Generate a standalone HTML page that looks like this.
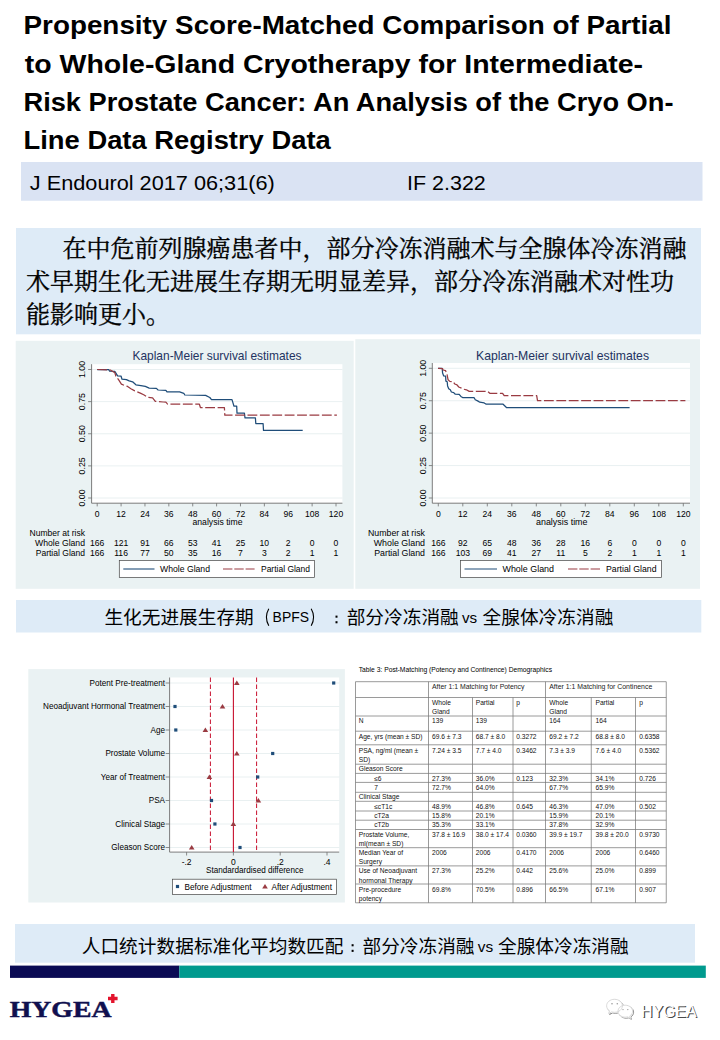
<!DOCTYPE html>
<html lang="zh"><head><meta charset="utf-8"><title>Propensity Score-Matched Comparison of Partial to Whole-Gland Cryotherapy</title>
<style>
html,body{margin:0;padding:0;background:#fff;}
body{width:720px;height:1040px;overflow:hidden;font-family:"Liberation Sans",sans-serif;}
svg{display:block;}
text{white-space:pre;}
</style></head><body>
<svg width="720" height="1040" viewBox="0 0 720 1040">
<text x="23.50" y="34.25" font-family="Liberation Sans, sans-serif" font-size="26.2" font-weight="bold" textLength="648.00" lengthAdjust="spacingAndGlyphs" fill="#000">Propensity Score-Matched Comparison of Partial</text>
<text x="24.75" y="72.50" font-family="Liberation Sans, sans-serif" font-size="26.2" font-weight="bold" textLength="618.30" lengthAdjust="spacingAndGlyphs" fill="#000">to Whole-Gland Cryotherapy for Intermediate-</text>
<text x="23.50" y="110.75" font-family="Liberation Sans, sans-serif" font-size="26.2" font-weight="bold" textLength="650.00" lengthAdjust="spacingAndGlyphs" fill="#000">Risk Prostate Cancer: An Analysis of the Cryo On-</text>
<text x="23.50" y="149.00" font-family="Liberation Sans, sans-serif" font-size="26.2" font-weight="bold" textLength="307.30" lengthAdjust="spacingAndGlyphs" fill="#000">Line Data Registry Data</text>
<rect x="21.00" y="162.00" width="681.50" height="38.75" fill="#dae3f3"/>
<text x="29.80" y="190.00" font-family="Liberation Sans, sans-serif" font-size="21.1" textLength="245.00" lengthAdjust="spacingAndGlyphs" fill="#000">J Endourol 2017 06;31(6)</text>
<text x="407.00" y="190.00" font-family="Liberation Sans, sans-serif" font-size="21.1" textLength="78.80" lengthAdjust="spacingAndGlyphs" fill="#000">IF 2.322</text>
<rect x="16.00" y="228.00" width="685.00" height="106.30" fill="#deebf7"/>
<text x="62.50" y="257.40" font-family="'Liberation Serif', 'Noto Serif CJK SC', serif" font-size="24" textLength="624" lengthAdjust="spacing" fill="#000" stroke="#000" stroke-width="0.34" stroke-linejoin="round">在中危前列腺癌患者中，部分冷冻消融术与全腺体冷冻消融</text>
<text x="26.00" y="290.15" font-family="'Liberation Serif', 'Noto Serif CJK SC', serif" font-size="24" textLength="648" lengthAdjust="spacing" fill="#000" stroke="#000" stroke-width="0.34" stroke-linejoin="round">术早期生化无进展生存期无明显差异，部分冷冻消融术对性功</text>
<text x="26.00" y="322.90" font-family="'Liberation Serif', 'Noto Serif CJK SC', serif" font-size="24" textLength="144" lengthAdjust="spacing" fill="#000" stroke="#000" stroke-width="0.34" stroke-linejoin="round">能影响更小。</text>
<rect x="15.70" y="340.80" width="338.00" height="248.00" fill="#eaf2f3"/>
<rect x="91.60" y="364.20" width="250.80" height="139.00" fill="#fff"/>
<line x1="91.6" x2="342.4" y1="369.50" y2="369.50" stroke="#e3ecee" stroke-width="0.8"/>
<line x1="91.6" x2="342.4" y1="401.62" y2="401.62" stroke="#e3ecee" stroke-width="0.8"/>
<line x1="91.6" x2="342.4" y1="433.75" y2="433.75" stroke="#e3ecee" stroke-width="0.8"/>
<line x1="91.6" x2="342.4" y1="465.88" y2="465.88" stroke="#e3ecee" stroke-width="0.8"/>
<line x1="91.6" x2="342.4" y1="498.00" y2="498.00" stroke="#e3ecee" stroke-width="0.8"/>
<path d="M91.6 364.2V503.2H342.4" fill="none" stroke="#6e6e6e" stroke-width="0.9"/>
<line x1="88.1" x2="91.6" y1="369.50" y2="369.50" stroke="#6e6e6e" stroke-width="0.8"/>
<text x="0.00" y="0.00" font-family="Liberation Sans, sans-serif" font-size="8.8" text-anchor="middle" fill="#000" transform="translate(85.30,369.50) rotate(-90)">1.00</text>
<line x1="88.1" x2="91.6" y1="401.62" y2="401.62" stroke="#6e6e6e" stroke-width="0.8"/>
<text x="0.00" y="0.00" font-family="Liberation Sans, sans-serif" font-size="8.8" text-anchor="middle" fill="#000" transform="translate(85.30,401.62) rotate(-90)">0.75</text>
<line x1="88.1" x2="91.6" y1="433.75" y2="433.75" stroke="#6e6e6e" stroke-width="0.8"/>
<text x="0.00" y="0.00" font-family="Liberation Sans, sans-serif" font-size="8.8" text-anchor="middle" fill="#000" transform="translate(85.30,433.75) rotate(-90)">0.50</text>
<line x1="88.1" x2="91.6" y1="465.88" y2="465.88" stroke="#6e6e6e" stroke-width="0.8"/>
<text x="0.00" y="0.00" font-family="Liberation Sans, sans-serif" font-size="8.8" text-anchor="middle" fill="#000" transform="translate(85.30,465.88) rotate(-90)">0.25</text>
<line x1="88.1" x2="91.6" y1="498.00" y2="498.00" stroke="#6e6e6e" stroke-width="0.8"/>
<text x="0.00" y="0.00" font-family="Liberation Sans, sans-serif" font-size="8.8" text-anchor="middle" fill="#000" transform="translate(85.30,498.00) rotate(-90)">0.00</text>
<line x1="97.20" x2="97.20" y1="503.2" y2="506.4" stroke="#6e6e6e" stroke-width="0.8"/>
<text x="97.20" y="516.80" font-family="Liberation Sans, sans-serif" font-size="8.6" text-anchor="middle" fill="#000">0</text>
<text x="97.20" y="546.30" font-family="Liberation Sans, sans-serif" font-size="8.6" text-anchor="middle" fill="#000">166</text>
<text x="97.20" y="555.80" font-family="Liberation Sans, sans-serif" font-size="8.6" text-anchor="middle" fill="#000">166</text>
<line x1="121.08" x2="121.08" y1="503.2" y2="506.4" stroke="#6e6e6e" stroke-width="0.8"/>
<text x="121.08" y="516.80" font-family="Liberation Sans, sans-serif" font-size="8.6" text-anchor="middle" fill="#000">12</text>
<text x="121.08" y="546.30" font-family="Liberation Sans, sans-serif" font-size="8.6" text-anchor="middle" fill="#000">121</text>
<text x="121.08" y="555.80" font-family="Liberation Sans, sans-serif" font-size="8.6" text-anchor="middle" fill="#000">116</text>
<line x1="144.96" x2="144.96" y1="503.2" y2="506.4" stroke="#6e6e6e" stroke-width="0.8"/>
<text x="144.96" y="516.80" font-family="Liberation Sans, sans-serif" font-size="8.6" text-anchor="middle" fill="#000">24</text>
<text x="144.96" y="546.30" font-family="Liberation Sans, sans-serif" font-size="8.6" text-anchor="middle" fill="#000">91</text>
<text x="144.96" y="555.80" font-family="Liberation Sans, sans-serif" font-size="8.6" text-anchor="middle" fill="#000">77</text>
<line x1="168.84" x2="168.84" y1="503.2" y2="506.4" stroke="#6e6e6e" stroke-width="0.8"/>
<text x="168.84" y="516.80" font-family="Liberation Sans, sans-serif" font-size="8.6" text-anchor="middle" fill="#000">36</text>
<text x="168.84" y="546.30" font-family="Liberation Sans, sans-serif" font-size="8.6" text-anchor="middle" fill="#000">66</text>
<text x="168.84" y="555.80" font-family="Liberation Sans, sans-serif" font-size="8.6" text-anchor="middle" fill="#000">50</text>
<line x1="192.72" x2="192.72" y1="503.2" y2="506.4" stroke="#6e6e6e" stroke-width="0.8"/>
<text x="192.72" y="516.80" font-family="Liberation Sans, sans-serif" font-size="8.6" text-anchor="middle" fill="#000">48</text>
<text x="192.72" y="546.30" font-family="Liberation Sans, sans-serif" font-size="8.6" text-anchor="middle" fill="#000">53</text>
<text x="192.72" y="555.80" font-family="Liberation Sans, sans-serif" font-size="8.6" text-anchor="middle" fill="#000">35</text>
<line x1="216.60" x2="216.60" y1="503.2" y2="506.4" stroke="#6e6e6e" stroke-width="0.8"/>
<text x="216.60" y="516.80" font-family="Liberation Sans, sans-serif" font-size="8.6" text-anchor="middle" fill="#000">60</text>
<text x="216.60" y="546.30" font-family="Liberation Sans, sans-serif" font-size="8.6" text-anchor="middle" fill="#000">41</text>
<text x="216.60" y="555.80" font-family="Liberation Sans, sans-serif" font-size="8.6" text-anchor="middle" fill="#000">16</text>
<line x1="240.48" x2="240.48" y1="503.2" y2="506.4" stroke="#6e6e6e" stroke-width="0.8"/>
<text x="240.48" y="516.80" font-family="Liberation Sans, sans-serif" font-size="8.6" text-anchor="middle" fill="#000">72</text>
<text x="240.48" y="546.30" font-family="Liberation Sans, sans-serif" font-size="8.6" text-anchor="middle" fill="#000">25</text>
<text x="240.48" y="555.80" font-family="Liberation Sans, sans-serif" font-size="8.6" text-anchor="middle" fill="#000">7</text>
<line x1="264.36" x2="264.36" y1="503.2" y2="506.4" stroke="#6e6e6e" stroke-width="0.8"/>
<text x="264.36" y="516.80" font-family="Liberation Sans, sans-serif" font-size="8.6" text-anchor="middle" fill="#000">84</text>
<text x="264.36" y="546.30" font-family="Liberation Sans, sans-serif" font-size="8.6" text-anchor="middle" fill="#000">10</text>
<text x="264.36" y="555.80" font-family="Liberation Sans, sans-serif" font-size="8.6" text-anchor="middle" fill="#000">3</text>
<line x1="288.24" x2="288.24" y1="503.2" y2="506.4" stroke="#6e6e6e" stroke-width="0.8"/>
<text x="288.24" y="516.80" font-family="Liberation Sans, sans-serif" font-size="8.6" text-anchor="middle" fill="#000">96</text>
<text x="288.24" y="546.30" font-family="Liberation Sans, sans-serif" font-size="8.6" text-anchor="middle" fill="#000">2</text>
<text x="288.24" y="555.80" font-family="Liberation Sans, sans-serif" font-size="8.6" text-anchor="middle" fill="#000">2</text>
<line x1="312.12" x2="312.12" y1="503.2" y2="506.4" stroke="#6e6e6e" stroke-width="0.8"/>
<text x="312.12" y="516.80" font-family="Liberation Sans, sans-serif" font-size="8.6" text-anchor="middle" fill="#000">108</text>
<text x="312.12" y="546.30" font-family="Liberation Sans, sans-serif" font-size="8.6" text-anchor="middle" fill="#000">0</text>
<text x="312.12" y="555.80" font-family="Liberation Sans, sans-serif" font-size="8.6" text-anchor="middle" fill="#000">1</text>
<line x1="336.00" x2="336.00" y1="503.2" y2="506.4" stroke="#6e6e6e" stroke-width="0.8"/>
<text x="336.00" y="516.80" font-family="Liberation Sans, sans-serif" font-size="8.6" text-anchor="middle" fill="#000">120</text>
<text x="336.00" y="546.30" font-family="Liberation Sans, sans-serif" font-size="8.6" text-anchor="middle" fill="#000">0</text>
<text x="336.00" y="555.80" font-family="Liberation Sans, sans-serif" font-size="8.6" text-anchor="middle" fill="#000">1</text>
<text x="192.50" y="525.00" font-family="Liberation Sans, sans-serif" font-size="8.6" textLength="50.00" lengthAdjust="spacingAndGlyphs" fill="#000">analysis time</text>
<text x="132.50" y="359.50" font-family="Liberation Sans, sans-serif" font-size="12.2" textLength="169.00" lengthAdjust="spacingAndGlyphs" fill="#233261">Kaplan-Meier survival estimates</text>
<text x="29.50" y="536.30" font-family="Liberation Sans, sans-serif" font-size="8.6" textLength="55.50" lengthAdjust="spacingAndGlyphs" fill="#000">Number at risk</text>
<text x="35.00" y="546.30" font-family="Liberation Sans, sans-serif" font-size="8.6" textLength="50.00" lengthAdjust="spacingAndGlyphs" fill="#000">Whole Gland</text>
<text x="35.75" y="555.80" font-family="Liberation Sans, sans-serif" font-size="8.6" textLength="49.25" lengthAdjust="spacingAndGlyphs" fill="#000">Partial Gland</text>
<path d="M97.2 369.5 L108.7 369.5 L109.6 371.1 L114.8 371.4 L115.9 373.1 L117.6 375.9 L121.1 376.2 L122.0 379.2 L126.4 379.6 L129.2 380.9 L132.6 381.8 L135.9 384.8 L140.9 385.6 L145.3 386.4 L149.2 388.1 L156.4 388.4 L158.1 390.0 L165.9 390.3 L167.0 391.8 L179.6 391.9 L183.8 393.3 L184.8 395.0 L205.6 395.4 L209.8 397.5 L211.5 399.6 L232.0 399.6 L232.9 402.7 L234.0 406.2 L236.7 406.2 L237.0 413.1 L244.4 413.1 L245.0 417.9 L255.4 417.9 L255.8 423.5 L263.1 423.5 L263.5 430.4 L302.7 430.4" fill="none" stroke="#1f4d79" stroke-width="1.25" stroke-linejoin="round"/>
<path d="M97.2 369.5 L110.3 370.0 L114.8 372.6 L115.9 376.2 L118.7 379.8 L121.4 384.2 L124.2 385.3 L127.6 386.4 L130.9 388.7 L134.8 390.9 L140.3 393.1 L143.7 394.8 L147.6 397.3 L152.6 397.8 L155.3 401.4 L163.1 402.0 L165.9 402.2 L167.6 404.1 L199.4 404.2 L200.4 407.5 L224.4 407.5 L224.8 415.2 L336.9 415.2" fill="none" stroke="#9a3b42" stroke-width="1.25" stroke-dasharray="9.8 2.6" stroke-linejoin="round"/>
<rect x="119.3" y="560.5" width="195.3" height="17" fill="#fff" stroke="#444" stroke-width="0.7"/>
<line x1="123.3" x2="154.5" y1="569" y2="569" stroke="#1f4d79" stroke-width="1.1"/>
<line x1="223" x2="254.6" y1="569" y2="569" stroke="#9a3b42" stroke-width="1.1" stroke-dasharray="9.4 1.9"/>
<text x="160.00" y="572.00" font-family="Liberation Sans, sans-serif" font-size="8.6" textLength="50.00" lengthAdjust="spacingAndGlyphs" fill="#000">Whole Gland</text>
<text x="261.00" y="572.00" font-family="Liberation Sans, sans-serif" font-size="8.6" textLength="49.00" lengthAdjust="spacingAndGlyphs" fill="#000">Partial Gland</text>
<rect x="355.30" y="339.20" width="344.70" height="249.60" fill="#eaf2f3"/>
<rect x="432.30" y="363.00" width="257.70" height="140.20" fill="#fff"/>
<line x1="432.3" x2="690" y1="368.30" y2="368.30" stroke="#e3ecee" stroke-width="0.8"/>
<line x1="432.3" x2="690" y1="400.73" y2="400.73" stroke="#e3ecee" stroke-width="0.8"/>
<line x1="432.3" x2="690" y1="433.15" y2="433.15" stroke="#e3ecee" stroke-width="0.8"/>
<line x1="432.3" x2="690" y1="465.57" y2="465.57" stroke="#e3ecee" stroke-width="0.8"/>
<line x1="432.3" x2="690" y1="498.00" y2="498.00" stroke="#e3ecee" stroke-width="0.8"/>
<path d="M432.3 363V503.2H690" fill="none" stroke="#6e6e6e" stroke-width="0.9"/>
<line x1="428.8" x2="432.3" y1="368.30" y2="368.30" stroke="#6e6e6e" stroke-width="0.8"/>
<text x="0.00" y="0.00" font-family="Liberation Sans, sans-serif" font-size="8.8" text-anchor="middle" fill="#000" transform="translate(426.00,368.30) rotate(-90)">1.00</text>
<line x1="428.8" x2="432.3" y1="400.73" y2="400.73" stroke="#6e6e6e" stroke-width="0.8"/>
<text x="0.00" y="0.00" font-family="Liberation Sans, sans-serif" font-size="8.8" text-anchor="middle" fill="#000" transform="translate(426.00,400.73) rotate(-90)">0.75</text>
<line x1="428.8" x2="432.3" y1="433.15" y2="433.15" stroke="#6e6e6e" stroke-width="0.8"/>
<text x="0.00" y="0.00" font-family="Liberation Sans, sans-serif" font-size="8.8" text-anchor="middle" fill="#000" transform="translate(426.00,433.15) rotate(-90)">0.50</text>
<line x1="428.8" x2="432.3" y1="465.57" y2="465.57" stroke="#6e6e6e" stroke-width="0.8"/>
<text x="0.00" y="0.00" font-family="Liberation Sans, sans-serif" font-size="8.8" text-anchor="middle" fill="#000" transform="translate(426.00,465.57) rotate(-90)">0.25</text>
<line x1="428.8" x2="432.3" y1="498.00" y2="498.00" stroke="#6e6e6e" stroke-width="0.8"/>
<text x="0.00" y="0.00" font-family="Liberation Sans, sans-serif" font-size="8.8" text-anchor="middle" fill="#000" transform="translate(426.00,498.00) rotate(-90)">0.00</text>
<line x1="438.30" x2="438.30" y1="503.2" y2="506.4" stroke="#6e6e6e" stroke-width="0.8"/>
<text x="438.30" y="516.80" font-family="Liberation Sans, sans-serif" font-size="8.6" text-anchor="middle" fill="#000">0</text>
<text x="438.30" y="546.30" font-family="Liberation Sans, sans-serif" font-size="8.6" text-anchor="middle" fill="#000">166</text>
<text x="438.30" y="555.80" font-family="Liberation Sans, sans-serif" font-size="8.6" text-anchor="middle" fill="#000">166</text>
<line x1="462.80" x2="462.80" y1="503.2" y2="506.4" stroke="#6e6e6e" stroke-width="0.8"/>
<text x="462.80" y="516.80" font-family="Liberation Sans, sans-serif" font-size="8.6" text-anchor="middle" fill="#000">12</text>
<text x="462.80" y="546.30" font-family="Liberation Sans, sans-serif" font-size="8.6" text-anchor="middle" fill="#000">92</text>
<text x="462.80" y="555.80" font-family="Liberation Sans, sans-serif" font-size="8.6" text-anchor="middle" fill="#000">103</text>
<line x1="487.30" x2="487.30" y1="503.2" y2="506.4" stroke="#6e6e6e" stroke-width="0.8"/>
<text x="487.30" y="516.80" font-family="Liberation Sans, sans-serif" font-size="8.6" text-anchor="middle" fill="#000">24</text>
<text x="487.30" y="546.30" font-family="Liberation Sans, sans-serif" font-size="8.6" text-anchor="middle" fill="#000">65</text>
<text x="487.30" y="555.80" font-family="Liberation Sans, sans-serif" font-size="8.6" text-anchor="middle" fill="#000">69</text>
<line x1="511.80" x2="511.80" y1="503.2" y2="506.4" stroke="#6e6e6e" stroke-width="0.8"/>
<text x="511.80" y="516.80" font-family="Liberation Sans, sans-serif" font-size="8.6" text-anchor="middle" fill="#000">36</text>
<text x="511.80" y="546.30" font-family="Liberation Sans, sans-serif" font-size="8.6" text-anchor="middle" fill="#000">48</text>
<text x="511.80" y="555.80" font-family="Liberation Sans, sans-serif" font-size="8.6" text-anchor="middle" fill="#000">41</text>
<line x1="536.30" x2="536.30" y1="503.2" y2="506.4" stroke="#6e6e6e" stroke-width="0.8"/>
<text x="536.30" y="516.80" font-family="Liberation Sans, sans-serif" font-size="8.6" text-anchor="middle" fill="#000">48</text>
<text x="536.30" y="546.30" font-family="Liberation Sans, sans-serif" font-size="8.6" text-anchor="middle" fill="#000">36</text>
<text x="536.30" y="555.80" font-family="Liberation Sans, sans-serif" font-size="8.6" text-anchor="middle" fill="#000">27</text>
<line x1="560.80" x2="560.80" y1="503.2" y2="506.4" stroke="#6e6e6e" stroke-width="0.8"/>
<text x="560.80" y="516.80" font-family="Liberation Sans, sans-serif" font-size="8.6" text-anchor="middle" fill="#000">60</text>
<text x="560.80" y="546.30" font-family="Liberation Sans, sans-serif" font-size="8.6" text-anchor="middle" fill="#000">28</text>
<text x="560.80" y="555.80" font-family="Liberation Sans, sans-serif" font-size="8.6" text-anchor="middle" fill="#000">11</text>
<line x1="585.30" x2="585.30" y1="503.2" y2="506.4" stroke="#6e6e6e" stroke-width="0.8"/>
<text x="585.30" y="516.80" font-family="Liberation Sans, sans-serif" font-size="8.6" text-anchor="middle" fill="#000">72</text>
<text x="585.30" y="546.30" font-family="Liberation Sans, sans-serif" font-size="8.6" text-anchor="middle" fill="#000">16</text>
<text x="585.30" y="555.80" font-family="Liberation Sans, sans-serif" font-size="8.6" text-anchor="middle" fill="#000">5</text>
<line x1="609.80" x2="609.80" y1="503.2" y2="506.4" stroke="#6e6e6e" stroke-width="0.8"/>
<text x="609.80" y="516.80" font-family="Liberation Sans, sans-serif" font-size="8.6" text-anchor="middle" fill="#000">84</text>
<text x="609.80" y="546.30" font-family="Liberation Sans, sans-serif" font-size="8.6" text-anchor="middle" fill="#000">6</text>
<text x="609.80" y="555.80" font-family="Liberation Sans, sans-serif" font-size="8.6" text-anchor="middle" fill="#000">2</text>
<line x1="634.30" x2="634.30" y1="503.2" y2="506.4" stroke="#6e6e6e" stroke-width="0.8"/>
<text x="634.30" y="516.80" font-family="Liberation Sans, sans-serif" font-size="8.6" text-anchor="middle" fill="#000">96</text>
<text x="634.30" y="546.30" font-family="Liberation Sans, sans-serif" font-size="8.6" text-anchor="middle" fill="#000">0</text>
<text x="634.30" y="555.80" font-family="Liberation Sans, sans-serif" font-size="8.6" text-anchor="middle" fill="#000">1</text>
<line x1="658.80" x2="658.80" y1="503.2" y2="506.4" stroke="#6e6e6e" stroke-width="0.8"/>
<text x="658.80" y="516.80" font-family="Liberation Sans, sans-serif" font-size="8.6" text-anchor="middle" fill="#000">108</text>
<text x="658.80" y="546.30" font-family="Liberation Sans, sans-serif" font-size="8.6" text-anchor="middle" fill="#000">0</text>
<text x="658.80" y="555.80" font-family="Liberation Sans, sans-serif" font-size="8.6" text-anchor="middle" fill="#000">1</text>
<line x1="683.30" x2="683.30" y1="503.2" y2="506.4" stroke="#6e6e6e" stroke-width="0.8"/>
<text x="683.30" y="516.80" font-family="Liberation Sans, sans-serif" font-size="8.6" text-anchor="middle" fill="#000">120</text>
<text x="683.30" y="546.30" font-family="Liberation Sans, sans-serif" font-size="8.6" text-anchor="middle" fill="#000">0</text>
<text x="683.30" y="555.80" font-family="Liberation Sans, sans-serif" font-size="8.6" text-anchor="middle" fill="#000">1</text>
<text x="536.00" y="525.00" font-family="Liberation Sans, sans-serif" font-size="8.6" textLength="51.50" lengthAdjust="spacingAndGlyphs" fill="#000">analysis time</text>
<text x="476.00" y="359.50" font-family="Liberation Sans, sans-serif" font-size="12.2" textLength="173.00" lengthAdjust="spacingAndGlyphs" fill="#233261">Kaplan-Meier survival estimates</text>
<text x="368.00" y="536.30" font-family="Liberation Sans, sans-serif" font-size="8.6" textLength="57.00" lengthAdjust="spacingAndGlyphs" fill="#000">Number at risk</text>
<text x="373.75" y="546.30" font-family="Liberation Sans, sans-serif" font-size="8.6" textLength="51.25" lengthAdjust="spacingAndGlyphs" fill="#000">Whole Gland</text>
<text x="374.25" y="555.80" font-family="Liberation Sans, sans-serif" font-size="8.6" textLength="50.75" lengthAdjust="spacingAndGlyphs" fill="#000">Partial Gland</text>
<path d="M438.1 368.4 L442.2 368.4 L442.6 373.1 L443.7 375.9 L445.6 376.2 L445.9 381.1 L447.2 381.8 L447.6 385.9 L448.7 388.7 L450.3 389.8 L451.4 392.0 L453.7 392.6 L455.3 394.2 L459.2 394.4 L460.9 396.4 L462.6 397.6 L474.0 397.6 L475.3 399.8 L477.6 400.9 L479.8 402.2 L484.2 402.9 L486.2 404.2 L503.1 404.2 L506.7 407.7 L629.6 407.7" fill="none" stroke="#1f4d79" stroke-width="1.25" stroke-linejoin="round"/>
<path d="M438.1 368.4 L442.6 368.7 L443.1 370.0 L445.6 370.7 L447.0 374.2 L448.1 379.8 L449.8 381.4 L453.1 381.8 L454.8 384.0 L457.0 384.8 L458.7 387.0 L461.4 388.1 L463.7 389.2 L466.4 389.8 L469.2 391.4 L487.6 391.4 L489.8 393.3 L502.6 393.3 L504.2 395.7 L536.7 395.7 L537.5 400.7 L685.4 400.7" fill="none" stroke="#9a3b42" stroke-width="1.25" stroke-dasharray="9.8 2.6" stroke-linejoin="round"/>
<rect x="460.5" y="560.5" width="201.0" height="17" fill="#fff" stroke="#444" stroke-width="0.7"/>
<line x1="464.5" x2="497" y1="569" y2="569" stroke="#1f4d79" stroke-width="1.1"/>
<line x1="568" x2="600.2" y1="569" y2="569" stroke="#9a3b42" stroke-width="1.1" stroke-dasharray="9.4 1.9"/>
<text x="502.50" y="572.00" font-family="Liberation Sans, sans-serif" font-size="8.6" textLength="51.50" lengthAdjust="spacingAndGlyphs" fill="#000">Whole Gland</text>
<text x="606.00" y="572.00" font-family="Liberation Sans, sans-serif" font-size="8.6" textLength="50.50" lengthAdjust="spacingAndGlyphs" fill="#000">Partial Gland</text>
<rect x="16.00" y="600.00" width="685.30" height="32.50" fill="#deebf7"/>
<text x="104.40" y="624.20" font-family="'Liberation Sans', 'Noto Sans CJK SC', sans-serif" font-size="18.67" textLength="149.36" lengthAdjust="spacing" fill="#000">生化无进展生存期</text>
<path d="M268.80 608.80Q264.00 617.20 268.80 625.80" fill="none" stroke="#000" stroke-width="1.1"/>
<text x="272.60" y="622.40" font-family="Liberation Sans, sans-serif" font-size="15.1" textLength="36.40" lengthAdjust="spacingAndGlyphs" fill="#000">BPFS</text>
<path d="M311.20 608.80Q316.00 617.20 311.20 625.80" fill="none" stroke="#000" stroke-width="1.1"/>
<rect x="335.50" y="615.60" width="2.00" height="2.10" fill="#000"/>
<rect x="335.50" y="621.20" width="2.00" height="2.10" fill="#000"/>
<text x="346.70" y="624.20" font-family="'Liberation Sans', 'Noto Sans CJK SC', sans-serif" font-size="18.67" textLength="112.02" lengthAdjust="spacing" fill="#000">部分冷冻消融</text>
<text x="462.00" y="622.60" font-family="Liberation Sans, sans-serif" font-size="14.3" textLength="15.20" lengthAdjust="spacingAndGlyphs" fill="#000">vs</text>
<text x="482.60" y="624.20" font-family="'Liberation Sans', 'Noto Sans CJK SC', sans-serif" font-size="18.67" textLength="130.69" lengthAdjust="spacing" fill="#000">全腺体冷冻消融</text>
<rect x="28.30" y="669.10" width="316.60" height="233.40" fill="#eaf2f3"/>
<rect x="169.60" y="677.50" width="169.60" height="174.60" fill="#fff"/>
<line x1="169.6" x2="339.2" y1="683" y2="683" stroke="#e3ecee" stroke-width="0.8"/>
<line x1="165.6" x2="169.6" y1="683" y2="683" stroke="#6e6e6e" stroke-width="0.8"/>
<text x="165.00" y="685.90" font-family="Liberation Sans, sans-serif" font-size="8.15" text-anchor="end" fill="#000">Potent Pre-treatment</text>
<line x1="169.6" x2="339.2" y1="706.5" y2="706.5" stroke="#e3ecee" stroke-width="0.8"/>
<line x1="165.6" x2="169.6" y1="706.5" y2="706.5" stroke="#6e6e6e" stroke-width="0.8"/>
<text x="165.00" y="709.40" font-family="Liberation Sans, sans-serif" font-size="8.15" text-anchor="end" fill="#000">Neoadjuvant Hormonal Treatment</text>
<line x1="169.6" x2="339.2" y1="730" y2="730" stroke="#e3ecee" stroke-width="0.8"/>
<line x1="165.6" x2="169.6" y1="730" y2="730" stroke="#6e6e6e" stroke-width="0.8"/>
<text x="165.00" y="732.90" font-family="Liberation Sans, sans-serif" font-size="8.15" text-anchor="end" fill="#000">Age</text>
<line x1="169.6" x2="339.2" y1="753.5" y2="753.5" stroke="#e3ecee" stroke-width="0.8"/>
<line x1="165.6" x2="169.6" y1="753.5" y2="753.5" stroke="#6e6e6e" stroke-width="0.8"/>
<text x="165.00" y="756.40" font-family="Liberation Sans, sans-serif" font-size="8.15" text-anchor="end" fill="#000">Prostate Volume</text>
<line x1="169.6" x2="339.2" y1="777" y2="777" stroke="#e3ecee" stroke-width="0.8"/>
<line x1="165.6" x2="169.6" y1="777" y2="777" stroke="#6e6e6e" stroke-width="0.8"/>
<text x="165.00" y="779.90" font-family="Liberation Sans, sans-serif" font-size="8.15" text-anchor="end" fill="#000">Year of Treatment</text>
<line x1="169.6" x2="339.2" y1="800.5" y2="800.5" stroke="#e3ecee" stroke-width="0.8"/>
<line x1="165.6" x2="169.6" y1="800.5" y2="800.5" stroke="#6e6e6e" stroke-width="0.8"/>
<text x="165.00" y="803.40" font-family="Liberation Sans, sans-serif" font-size="8.15" text-anchor="end" fill="#000">PSA</text>
<line x1="169.6" x2="339.2" y1="824" y2="824" stroke="#e3ecee" stroke-width="0.8"/>
<line x1="165.6" x2="169.6" y1="824" y2="824" stroke="#6e6e6e" stroke-width="0.8"/>
<text x="165.00" y="826.90" font-family="Liberation Sans, sans-serif" font-size="8.15" text-anchor="end" fill="#000">Clinical Stage</text>
<line x1="169.6" x2="339.2" y1="847.5" y2="847.5" stroke="#e3ecee" stroke-width="0.8"/>
<line x1="165.6" x2="169.6" y1="847.5" y2="847.5" stroke="#6e6e6e" stroke-width="0.8"/>
<text x="165.00" y="850.40" font-family="Liberation Sans, sans-serif" font-size="8.15" text-anchor="end" fill="#000">Gleason Score</text>
<path d="M169.6 677.5V852.1H339.2" fill="none" stroke="#6e6e6e" stroke-width="0.9"/>
<line x1="186.60" x2="186.60" y1="852.1" y2="855.5" stroke="#6e6e6e" stroke-width="0.8"/>
<text x="186.60" y="865.00" font-family="Liberation Sans, sans-serif" font-size="8.5" text-anchor="middle" fill="#000">-.2</text>
<line x1="233.40" x2="233.40" y1="852.1" y2="855.5" stroke="#6e6e6e" stroke-width="0.8"/>
<text x="233.40" y="865.00" font-family="Liberation Sans, sans-serif" font-size="8.5" text-anchor="middle" fill="#000">0</text>
<line x1="280.20" x2="280.20" y1="852.1" y2="855.5" stroke="#6e6e6e" stroke-width="0.8"/>
<text x="280.20" y="865.00" font-family="Liberation Sans, sans-serif" font-size="8.5" text-anchor="middle" fill="#000">.2</text>
<line x1="327.00" x2="327.00" y1="852.1" y2="855.5" stroke="#6e6e6e" stroke-width="0.8"/>
<text x="327.00" y="865.00" font-family="Liberation Sans, sans-serif" font-size="8.5" text-anchor="middle" fill="#000">.4</text>
<text x="206.00" y="872.60" font-family="Liberation Sans, sans-serif" font-size="8.5" textLength="97.50" lengthAdjust="spacingAndGlyphs" fill="#000">Standardardised difference</text>
<line x1="233.4" x2="233.4" y1="677.5" y2="852.1" stroke="#c8102e" stroke-width="1.1"/>
<line x1="210.4" x2="210.4" y1="677.5" y2="852.1" stroke="#c8102e" stroke-width="1" stroke-dasharray="4.5 2.5"/>
<line x1="256.6" x2="256.6" y1="677.5" y2="852.1" stroke="#c8102e" stroke-width="1" stroke-dasharray="4.5 2.5"/>
<rect x="332.10" y="681.40" width="3.20" height="3.20" fill="#1f4d79"/>
<path d="M236.80 680.40L239.60 685.00H234.00Z" fill="#9a3b42"/>
<rect x="173.40" y="704.90" width="3.20" height="3.20" fill="#1f4d79"/>
<path d="M222.50 703.90L225.30 708.50H219.70Z" fill="#9a3b42"/>
<rect x="174.20" y="728.40" width="3.20" height="3.20" fill="#1f4d79"/>
<path d="M205.40 727.40L208.20 732.00H202.60Z" fill="#9a3b42"/>
<rect x="271.10" y="751.90" width="3.20" height="3.20" fill="#1f4d79"/>
<path d="M236.80 750.90L239.60 755.50H234.00Z" fill="#9a3b42"/>
<rect x="256.10" y="775.40" width="3.20" height="3.20" fill="#1f4d79"/>
<path d="M209.40 774.40L212.20 779.00H206.60Z" fill="#9a3b42"/>
<rect x="209.90" y="798.90" width="3.20" height="3.20" fill="#1f4d79"/>
<path d="M258.40 797.90L261.20 802.50H255.60Z" fill="#9a3b42"/>
<rect x="213.30" y="822.40" width="3.20" height="3.20" fill="#1f4d79"/>
<path d="M233.40 821.40L236.20 826.00H230.60Z" fill="#9a3b42"/>
<rect x="238.40" y="845.90" width="3.20" height="3.20" fill="#1f4d79"/>
<path d="M191.70 844.90L194.50 849.50H188.90Z" fill="#9a3b42"/>
<rect x="172.5" y="879.2" width="164" height="15.4" fill="#fff" stroke="#444" stroke-width="0.7"/>
<rect x="175.90" y="884.90" width="3.20" height="3.20" fill="#1f4d79"/>
<text x="184.50" y="889.80" font-family="Liberation Sans, sans-serif" font-size="8.5" textLength="67.00" lengthAdjust="spacingAndGlyphs" fill="#000">Before Adjustment</text>
<path d="M265.00 883.90L267.80 888.50H262.20Z" fill="#9a3b42"/>
<text x="271.50" y="889.80" font-family="Liberation Sans, sans-serif" font-size="8.5" textLength="60.50" lengthAdjust="spacingAndGlyphs" fill="#000">After Adjustment</text>
<text x="358.75" y="672.00" font-family="Liberation Sans, sans-serif" font-size="6.65" textLength="193.25" lengthAdjust="spacingAndGlyphs" fill="#000">Table 3: Post-Matching (Potency and Continence) Demographics</text>
<path d="M355.5 681.7H666.25M355.5 697.5H666.25M355.5 716H666.25M355.5 731.2H666.25M355.5 744.8H666.25M355.5 764.2H666.25M355.5 773.4H666.25M355.5 782.4H666.25M355.5 792.3H666.25M355.5 801.3H666.25M355.5 811H666.25M355.5 820.2H666.25M355.5 829.5H666.25M355.5 847.7H666.25M355.5 865.9H666.25M355.5 884H666.25M355.5 902.8H666.25M355.5 681.7V902.8M666.25 681.7V902.8M428.5 681.7V902.8M545.5 681.7V902.8M472.5 697.5V902.8M513 697.5V902.8M591.25 697.5V902.8M635.5 697.5V902.8" fill="none" stroke="#787878" stroke-width="0.75"/>
<text x="432.00" y="688.75" font-family="Liberation Sans, sans-serif" font-size="6.65" textLength="92.50" lengthAdjust="spacingAndGlyphs" fill="#222">After 1:1 Matching for Potency</text>
<text x="549.25" y="688.75" font-family="Liberation Sans, sans-serif" font-size="6.65" textLength="103.00" lengthAdjust="spacingAndGlyphs" fill="#222">After 1:1 Matching for Continence</text>
<text x="432.00" y="704.50" font-family="Liberation Sans, sans-serif" font-size="6.65" fill="#111">Whole</text>
<text x="475.75" y="704.50" font-family="Liberation Sans, sans-serif" font-size="6.65" fill="#111">Partial</text>
<text x="516.25" y="704.50" font-family="Liberation Sans, sans-serif" font-size="6.65" fill="#111">p</text>
<text x="549.25" y="704.50" font-family="Liberation Sans, sans-serif" font-size="6.65" fill="#111">Whole</text>
<text x="595.50" y="704.50" font-family="Liberation Sans, sans-serif" font-size="6.65" fill="#111">Partial</text>
<text x="639.25" y="704.50" font-family="Liberation Sans, sans-serif" font-size="6.65" fill="#111">p</text>
<text x="432.00" y="713.75" font-family="Liberation Sans, sans-serif" font-size="6.65" fill="#111">Gland</text>
<text x="549.25" y="713.75" font-family="Liberation Sans, sans-serif" font-size="6.65" fill="#111">Gland</text>
<text x="358.75" y="723.30" font-family="Liberation Sans, sans-serif" font-size="6.65" fill="#111">N</text>
<text x="432.00" y="723.30" font-family="Liberation Sans, sans-serif" font-size="6.65" fill="#111">139</text>
<text x="475.75" y="723.30" font-family="Liberation Sans, sans-serif" font-size="6.65" fill="#111">139</text>
<text x="549.25" y="723.30" font-family="Liberation Sans, sans-serif" font-size="6.65" fill="#111">164</text>
<text x="595.50" y="723.30" font-family="Liberation Sans, sans-serif" font-size="6.65" fill="#111">164</text>
<text x="358.75" y="738.75" font-family="Liberation Sans, sans-serif" font-size="6.65" fill="#111">Age, yrs (mean ± SD)</text>
<text x="432.00" y="738.75" font-family="Liberation Sans, sans-serif" font-size="6.65" fill="#111">69.6 ± 7.3</text>
<text x="475.75" y="738.75" font-family="Liberation Sans, sans-serif" font-size="6.65" fill="#111">68.7 ± 8.0</text>
<text x="516.25" y="738.75" font-family="Liberation Sans, sans-serif" font-size="6.65" fill="#111">0.3272</text>
<text x="549.25" y="738.75" font-family="Liberation Sans, sans-serif" font-size="6.65" fill="#111">69.2 ± 7.2</text>
<text x="595.50" y="738.75" font-family="Liberation Sans, sans-serif" font-size="6.65" fill="#111">68.8 ± 8.0</text>
<text x="639.25" y="738.75" font-family="Liberation Sans, sans-serif" font-size="6.65" fill="#111">0.6358</text>
<text x="358.75" y="752.90" font-family="Liberation Sans, sans-serif" font-size="6.65" fill="#111">PSA, ng/ml (mean ±</text>
<text x="432.00" y="752.90" font-family="Liberation Sans, sans-serif" font-size="6.65" fill="#111">7.24 ± 3.5</text>
<text x="475.75" y="752.90" font-family="Liberation Sans, sans-serif" font-size="6.65" fill="#111">7.7 ± 4.0</text>
<text x="516.25" y="752.90" font-family="Liberation Sans, sans-serif" font-size="6.65" fill="#111">0.3462</text>
<text x="549.25" y="752.90" font-family="Liberation Sans, sans-serif" font-size="6.65" fill="#111">7.3 ± 3.9</text>
<text x="595.50" y="752.90" font-family="Liberation Sans, sans-serif" font-size="6.65" fill="#111">7.6 ± 4.0</text>
<text x="639.25" y="752.90" font-family="Liberation Sans, sans-serif" font-size="6.65" fill="#111">0.5362</text>
<text x="358.75" y="762.00" font-family="Liberation Sans, sans-serif" font-size="6.65" fill="#111">SD)</text>
<text x="358.75" y="771.20" font-family="Liberation Sans, sans-serif" font-size="6.65" fill="#111">Gleason Score</text>
<text x="374.20" y="780.50" font-family="Liberation Sans, sans-serif" font-size="6.65" fill="#111">≤6</text>
<text x="432.00" y="780.50" font-family="Liberation Sans, sans-serif" font-size="6.65" fill="#111">27.3%</text>
<text x="475.75" y="780.50" font-family="Liberation Sans, sans-serif" font-size="6.65" fill="#111">36.0%</text>
<text x="516.25" y="780.50" font-family="Liberation Sans, sans-serif" font-size="6.65" fill="#111">0.123</text>
<text x="549.25" y="780.50" font-family="Liberation Sans, sans-serif" font-size="6.65" fill="#111">32.3%</text>
<text x="595.50" y="780.50" font-family="Liberation Sans, sans-serif" font-size="6.65" fill="#111">34.1%</text>
<text x="639.25" y="780.50" font-family="Liberation Sans, sans-serif" font-size="6.65" fill="#111">0.726</text>
<text x="374.20" y="789.50" font-family="Liberation Sans, sans-serif" font-size="6.65" fill="#111">7</text>
<text x="432.00" y="789.50" font-family="Liberation Sans, sans-serif" font-size="6.65" fill="#111">72.7%</text>
<text x="475.75" y="789.50" font-family="Liberation Sans, sans-serif" font-size="6.65" fill="#111">64.0%</text>
<text x="549.25" y="789.50" font-family="Liberation Sans, sans-serif" font-size="6.65" fill="#111">67.7%</text>
<text x="595.50" y="789.50" font-family="Liberation Sans, sans-serif" font-size="6.65" fill="#111">65.9%</text>
<text x="358.75" y="799.30" font-family="Liberation Sans, sans-serif" font-size="6.65" fill="#111">Clinical Stage</text>
<text x="374.20" y="808.60" font-family="Liberation Sans, sans-serif" font-size="6.65" fill="#111">≤cT1c</text>
<text x="432.00" y="808.60" font-family="Liberation Sans, sans-serif" font-size="6.65" fill="#111">48.9%</text>
<text x="475.75" y="808.60" font-family="Liberation Sans, sans-serif" font-size="6.65" fill="#111">46.8%</text>
<text x="516.25" y="808.60" font-family="Liberation Sans, sans-serif" font-size="6.65" fill="#111">0.645</text>
<text x="549.25" y="808.60" font-family="Liberation Sans, sans-serif" font-size="6.65" fill="#111">46.3%</text>
<text x="595.50" y="808.60" font-family="Liberation Sans, sans-serif" font-size="6.65" fill="#111">47.0%</text>
<text x="639.25" y="808.60" font-family="Liberation Sans, sans-serif" font-size="6.65" fill="#111">0.502</text>
<text x="374.20" y="818.00" font-family="Liberation Sans, sans-serif" font-size="6.65" fill="#111">cT2a</text>
<text x="432.00" y="818.00" font-family="Liberation Sans, sans-serif" font-size="6.65" fill="#111">15.8%</text>
<text x="475.75" y="818.00" font-family="Liberation Sans, sans-serif" font-size="6.65" fill="#111">20.1%</text>
<text x="549.25" y="818.00" font-family="Liberation Sans, sans-serif" font-size="6.65" fill="#111">15.9%</text>
<text x="595.50" y="818.00" font-family="Liberation Sans, sans-serif" font-size="6.65" fill="#111">20.1%</text>
<text x="374.20" y="827.20" font-family="Liberation Sans, sans-serif" font-size="6.65" fill="#111">cT2b</text>
<text x="432.00" y="827.20" font-family="Liberation Sans, sans-serif" font-size="6.65" fill="#111">35.3%</text>
<text x="475.75" y="827.20" font-family="Liberation Sans, sans-serif" font-size="6.65" fill="#111">33.1%</text>
<text x="549.25" y="827.20" font-family="Liberation Sans, sans-serif" font-size="6.65" fill="#111">37.8%</text>
<text x="595.50" y="827.20" font-family="Liberation Sans, sans-serif" font-size="6.65" fill="#111">32.9%</text>
<text x="358.75" y="836.60" font-family="Liberation Sans, sans-serif" font-size="6.65" fill="#111">Prostate Volume,</text>
<text x="432.00" y="836.60" font-family="Liberation Sans, sans-serif" font-size="6.65" fill="#111">37.8 ± 16.9</text>
<text x="475.75" y="836.60" font-family="Liberation Sans, sans-serif" font-size="6.65" fill="#111">38.0 ± 17.4</text>
<text x="516.25" y="836.60" font-family="Liberation Sans, sans-serif" font-size="6.65" fill="#111">0.0360</text>
<text x="549.25" y="836.60" font-family="Liberation Sans, sans-serif" font-size="6.65" fill="#111">39.9 ± 19.7</text>
<text x="595.50" y="836.60" font-family="Liberation Sans, sans-serif" font-size="6.65" fill="#111">39.8 ± 20.0</text>
<text x="639.25" y="836.60" font-family="Liberation Sans, sans-serif" font-size="6.65" fill="#111">0.9730</text>
<text x="358.75" y="845.90" font-family="Liberation Sans, sans-serif" font-size="6.65" fill="#111">ml(mean ± SD)</text>
<text x="358.75" y="854.90" font-family="Liberation Sans, sans-serif" font-size="6.65" fill="#111">Median Year of</text>
<text x="432.00" y="854.90" font-family="Liberation Sans, sans-serif" font-size="6.65" fill="#111">2006</text>
<text x="475.75" y="854.90" font-family="Liberation Sans, sans-serif" font-size="6.65" fill="#111">2006</text>
<text x="516.25" y="854.90" font-family="Liberation Sans, sans-serif" font-size="6.65" fill="#111">0.4170</text>
<text x="549.25" y="854.90" font-family="Liberation Sans, sans-serif" font-size="6.65" fill="#111">2006</text>
<text x="595.50" y="854.90" font-family="Liberation Sans, sans-serif" font-size="6.65" fill="#111">2006</text>
<text x="639.25" y="854.90" font-family="Liberation Sans, sans-serif" font-size="6.65" fill="#111">0.6460</text>
<text x="358.75" y="864.00" font-family="Liberation Sans, sans-serif" font-size="6.65" fill="#111">Surgery</text>
<text x="358.75" y="873.25" font-family="Liberation Sans, sans-serif" font-size="6.65" fill="#111">Use of Neoadjuvant</text>
<text x="432.00" y="873.25" font-family="Liberation Sans, sans-serif" font-size="6.65" fill="#111">27.3%</text>
<text x="475.75" y="873.25" font-family="Liberation Sans, sans-serif" font-size="6.65" fill="#111">25.2%</text>
<text x="516.25" y="873.25" font-family="Liberation Sans, sans-serif" font-size="6.65" fill="#111">0.442</text>
<text x="549.25" y="873.25" font-family="Liberation Sans, sans-serif" font-size="6.65" fill="#111">25.6%</text>
<text x="595.50" y="873.25" font-family="Liberation Sans, sans-serif" font-size="6.65" fill="#111">25.0%</text>
<text x="639.25" y="873.25" font-family="Liberation Sans, sans-serif" font-size="6.65" fill="#111">0.899</text>
<text x="358.75" y="882.50" font-family="Liberation Sans, sans-serif" font-size="6.65" fill="#111">hormonal Therapy</text>
<text x="358.75" y="891.75" font-family="Liberation Sans, sans-serif" font-size="6.65" fill="#111">Pre-procedure</text>
<text x="432.00" y="891.75" font-family="Liberation Sans, sans-serif" font-size="6.65" fill="#111">69.8%</text>
<text x="475.75" y="891.75" font-family="Liberation Sans, sans-serif" font-size="6.65" fill="#111">70.5%</text>
<text x="516.25" y="891.75" font-family="Liberation Sans, sans-serif" font-size="6.65" fill="#111">0.896</text>
<text x="549.25" y="891.75" font-family="Liberation Sans, sans-serif" font-size="6.65" fill="#111">66.5%</text>
<text x="595.50" y="891.75" font-family="Liberation Sans, sans-serif" font-size="6.65" fill="#111">67.1%</text>
<text x="639.25" y="891.75" font-family="Liberation Sans, sans-serif" font-size="6.65" fill="#111">0.907</text>
<text x="358.75" y="900.50" font-family="Liberation Sans, sans-serif" font-size="6.65" fill="#111">potency</text>
<rect x="15.00" y="924.00" width="680.00" height="38.70" fill="#deebf7"/>
<text x="81.70" y="952.80" font-family="'Liberation Sans', 'Noto Sans CJK SC', sans-serif" font-size="18.67" textLength="261.77" lengthAdjust="spacing" fill="#000">人口统计数据标准化平均数匹配</text>
<rect x="351.60" y="944.20" width="2.00" height="2.10" fill="#000"/>
<rect x="351.60" y="949.80" width="2.00" height="2.10" fill="#000"/>
<text x="362.50" y="952.80" font-family="'Liberation Sans', 'Noto Sans CJK SC', sans-serif" font-size="18.67" textLength="112.02" lengthAdjust="spacing" fill="#000">部分冷冻消融</text>
<text x="477.70" y="951.50" font-family="Liberation Sans, sans-serif" font-size="14.3" textLength="15.40" lengthAdjust="spacingAndGlyphs" fill="#000">vs</text>
<text x="498.00" y="952.80" font-family="'Liberation Sans', 'Noto Sans CJK SC', sans-serif" font-size="18.67" textLength="130.69" lengthAdjust="spacing" fill="#000">全腺体冷冻消融</text>
<rect x="10.00" y="965.60" width="169.30" height="12.30" fill="#0b0b54"/>
<rect x="179.30" y="965.60" width="526.50" height="12.30" fill="#009a8e"/>
<text x="9.70" y="1016.70" font-family="Liberation Serif, sans-serif" font-size="23" font-weight="bold" textLength="101.80" lengthAdjust="spacingAndGlyphs" fill="#10104f" stroke="#10104f" stroke-width="0.45">HYGEA</text>
<path d="M111.1 993.9h3.4v2.9h3.1v3.4h-3.1v2.9h-3.4v-2.9h-3.1v-3.400h3.100z" fill="#e3142d"/>
<g transform="translate(1.0,1.0)" fill="none" stroke="#707070" stroke-width="0.8"><path d="M614.5 999.3c-4.4 0-7.9 2.9-7.9 6.5 0 2 1.1 3.8 2.9 5l-0.9 2.7 3.1-1.6c0.9 0.25 1.8 0.4 2.8 0.4 4.4 0 7.9-2.9 7.9-6.5s-3.500-6.500-7.900-6.500z"/><path d="M625.300 1005.200c-4 0-7.300 2.700-7.300 6s3.300 6 7.300 6c0.800 0 1.600-0.100 2.400-0.300l2.700 1.400-0.700-2.300c1.800-1.100 2.900-2.800 2.900-4.800 0-3.300-3.300-6-7.300-6z"/></g>
<g transform="translate(0,0)" fill="#fff" stroke="#fff" stroke-width="0.8"><path d="M614.5 999.3c-4.4 0-7.9 2.9-7.9 6.5 0 2 1.1 3.8 2.9 5l-0.9 2.7 3.1-1.6c0.9 0.25 1.8 0.4 2.8 0.4 4.4 0 7.9-2.9 7.9-6.5s-3.500-6.500-7.900-6.500z"/><path d="M625.300 1005.200c-4 0-7.300 2.700-7.300 6s3.300 6 7.300 6c0.800 0 1.600-0.100 2.400-0.300l2.700 1.400-0.700-2.300c1.800-1.100 2.900-2.800 2.900-4.800 0-3.300-3.300-6-7.300-6z"/></g>
<g transform="translate(0,0)" fill="none" stroke="#d0d0d0" stroke-width="0.8"><path d="M614.5 999.3c-4.4 0-7.9 2.9-7.9 6.5 0 2 1.1 3.8 2.9 5l-0.9 2.7 3.1-1.6c0.9 0.25 1.8 0.4 2.8 0.4 4.4 0 7.9-2.9 7.9-6.5s-3.500-6.500-7.900-6.500z"/><path d="M625.300 1005.200c-4 0-7.300 2.700-7.300 6s3.300 6 7.300 6c0.800 0 1.600-0.100 2.400-0.300l2.700 1.400-0.700-2.300c1.800-1.100 2.900-2.800 2.900-4.800 0-3.300-3.300-6-7.300-6z"/></g>
<g fill="#9a9a9a"><circle cx="612" cy="1003.8" r="0.8"/><circle cx="617.3" cy="1003.8" r="0.8"/><circle cx="623" cy="1009.6" r="0.7"/><circle cx="627.8" cy="1009.6" r="0.7"/></g>
<text x="642.20" y="1017.80" font-family="Liberation Sans, sans-serif" font-size="17.3" textLength="55.50" lengthAdjust="spacingAndGlyphs" fill="#4a4a4a">HYGEA</text>
<text x="641.10" y="1016.70" font-family="Liberation Sans, sans-serif" font-size="17.3" textLength="55.50" lengthAdjust="spacingAndGlyphs" fill="#fff">HYGEA</text>
</svg>
</body></html>
